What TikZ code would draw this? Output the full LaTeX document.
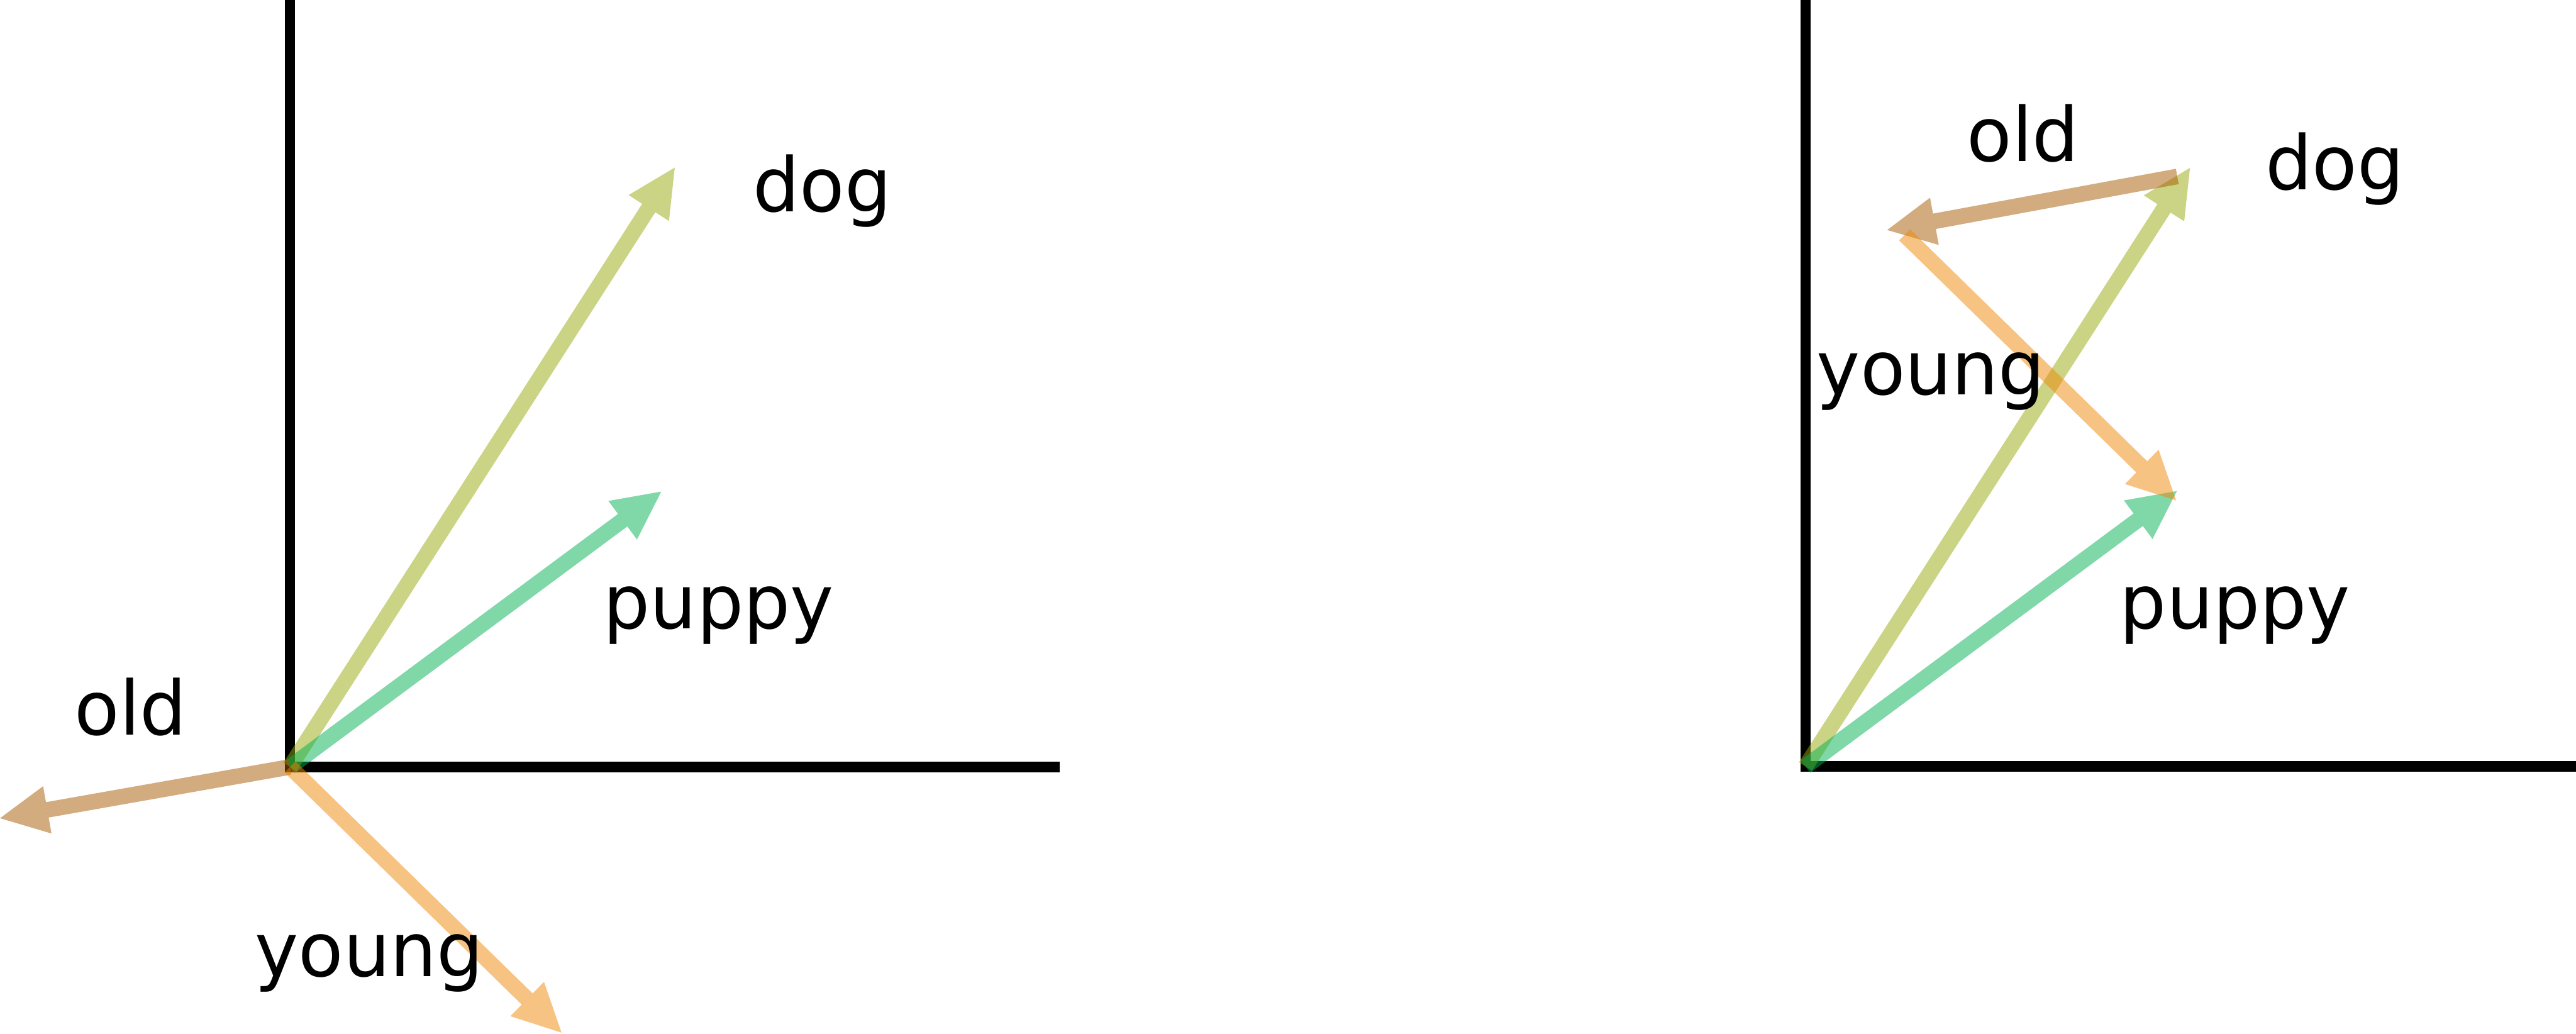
\documentclass[tikz,border=0pt]{standalone}
\usepackage{fontspec}
\setmainfont{DejaVu Sans}[FakeStretch=0.98]
\usetikzlibrary{arrows.meta}
\definecolor{cdog}{HTML}{98A80A}
\definecolor{cpuppy}{HTML}{01B151}
\definecolor{cold}{HTML}{A55700}
\definecolor{cyoung}{HTML}{ED8705}
\tikzset{
  axisline/.style={line width=0.128cm, black},
  vec/.style={line width=0.19cm, opacity=0.5,
    -{Triangle[length=0.585cm,width=0.585cm,line width=0pt]}},
  word/.style={anchor=base west, inner sep=0pt, font=\fontsize{26}{31}\selectfont}
}
\begin{document}
\begin{tikzpicture}[x=0.02cm,y=-0.02cm]
\useasboundingbox (0,0) rectangle (1568,629);
% left panel
\coordinate (O1) at (176.5,466.8);
\coordinate (T1) at (176.5,-10);
\coordinate (R1) at (645,466.8);
\coordinate (D1) at (410.7,102);
\coordinate (P1) at (402.5,299.2);
\coordinate (L1) at (0,498);
\coordinate (Y1) at (341.8,628.5);
\draw[axisline] (T1) -- (O1) -- (R1);
\draw[vec, cdog] (O1) -- (D1);
\draw[vec, cpuppy] (O1) -- (P1);
\draw[vec, cold] (O1) -- (L1);
\draw[vec, cyoung] (O1) -- (Y1);
\node[word] (dog1) at (458,128.8) {dog};
\node[word] (puppy1) at (367,382.8) {puppy};
\node[word] (old1) at (45,447.4) {old};
\node[word] (young1) at (154.8,594.3) {young};
% right panel
\coordinate (O2) at (1099,466.5);
\coordinate (T2) at (1099,-10);
\coordinate (R2) at (1580,466.5);
\coordinate (D2) at (1333,102.2);
\coordinate (P2) at (1325,298.9);
\coordinate (S2) at (1325.3,107.4);
\coordinate (L2) at (1148.7,140);
\coordinate (S3) at (1159.3,142.9);
\coordinate (Y2) at (1324.6,304.6);
\draw[axisline] (T2) -- (O2) -- (R2);
\draw[vec, cdog] (O2) -- (D2);
\draw[vec, cpuppy] (O2) -- (P2);
\draw[vec, cold] (S2) -- (L2);
\draw[vec, cyoung] (S3) -- (Y2);
\node[word] (old2) at (1197,98.3) {old};
\node[word] (dog2) at (1378.7,115.5) {dog};
\node[word] (young2) at (1105.5,240.4) {young};
\node[word] (puppy2) at (1290,382.5) {puppy};
\end{tikzpicture}
\end{document}
